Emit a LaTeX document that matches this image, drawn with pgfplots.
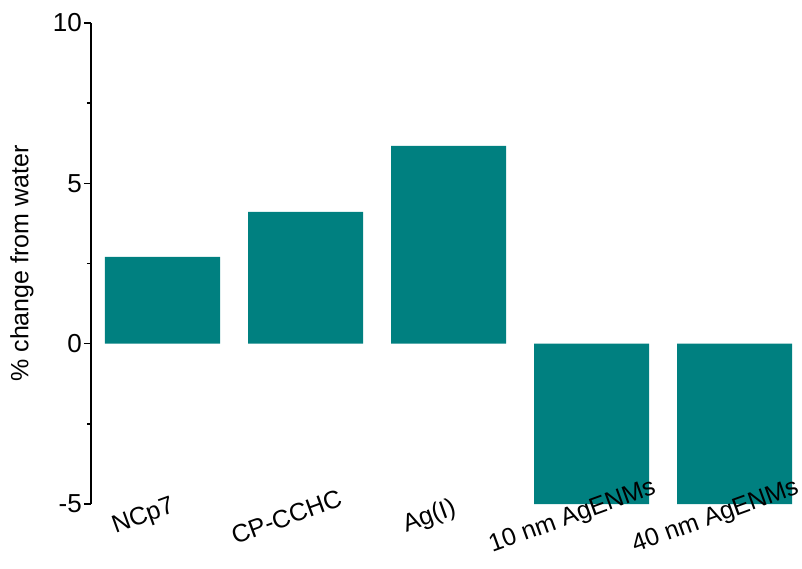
\documentclass[border=0pt]{standalone}
\usepackage{pgfplots}
\pgfplotsset{compat=1.18}
\usepackage{fontspec}
\setmainfont{Liberation Sans}
\definecolor{barteal}{RGB}{0,128,128}

\begin{document}
\fontsize{25}{29}\selectfont
\begin{tikzpicture}
% bars and the value axis
\begin{axis}[
  at={(0pt,0pt)}, anchor=south west,
  scale only axis,
  width=715pt, height=481pt,
  xmin=-0.5, xmax=4.5,
  ymin=-5, ymax=10,
  axis y line=left,
  axis x line=none,
  y axis line style={-, line width=1.5pt},
  ytick={-5,0,5,10},
  minor y tick num=1,
  tick align=outside,
  major tick length=7pt,
  minor tick length=4pt,
  every tick/.style={black, line width=1.5pt},
  /pgf/number format/assume math mode=true,
  yticklabel style={font=\fontsize{26}{30}\selectfont, inner sep=2pt},
  ylabel={\% change from water},
  ylabel style={at={(axis description cs:-0.0965,0.5)}, anchor=center, font=\fontsize{25}{29}\selectfont},
  clip=false,
]
\addplot[ybar, bar width=115pt, fill=barteal, draw=none]
  coordinates {(0,2.71) (1,4.11) (2,6.17) (3,-5) (4,-5)};
\end{axis}
% category labels, tilted under the bars
\begin{axis}[
  at={(0pt,0pt)}, anchor=south west,
  scale only axis,
  width=715pt, height=481pt,
  xmin=-0.5, xmax=4.5,
  ymin=-5, ymax=10,
  hide y axis,
  axis x line*=bottom,
  x axis line style={draw=none},
  xtick={0,1,2,3,4},
  xticklabels={NCp7,CP-CCHC,Ag(I),10 nm AgENMs,40 nm AgENMs},
  major tick length=0pt,
  xtick style={draw=none},
  xticklabel style={xshift=-19pt, yshift=-13pt, rotate=20, anchor=center, font=\fontsize{25}{29}\selectfont},
]
\addplot[draw=none] coordinates {(0,0)};
\end{axis}
\pgfresetboundingbox
\path[use as bounding box] (-91pt,-64pt) rectangle (711pt,504pt);
\end{tikzpicture}
\end{document}
